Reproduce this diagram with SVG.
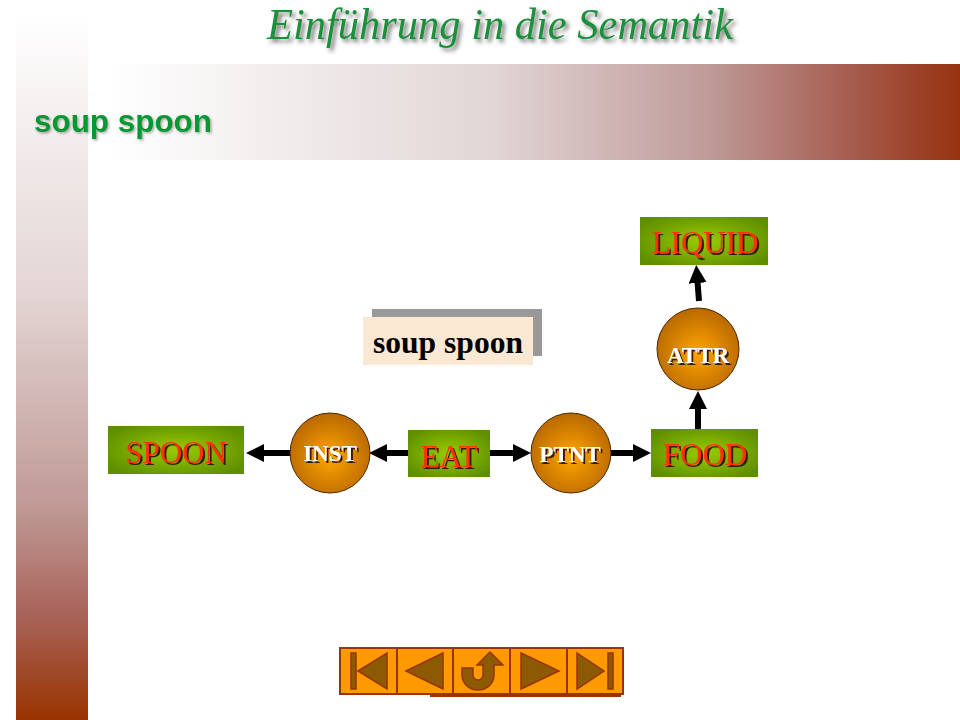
<svg xmlns="http://www.w3.org/2000/svg" width="960" height="720" viewBox="0 0 960 720">
<defs>
<linearGradient id="side" x1="0" y1="0" x2="0" y2="1">
<stop offset="0" stop-color="#ffffff"/>
<stop offset="0.4" stop-color="#e3d5d4"/>
<stop offset="0.7" stop-color="#bf9995"/>
<stop offset="0.85" stop-color="#a8645a"/>
<stop offset="1" stop-color="#993300"/>
</linearGradient>
<linearGradient id="band" x1="0" y1="0" x2="1" y2="0">
<stop offset="0" stop-color="#ffffff"/>
<stop offset="0.45" stop-color="#e2d6d6"/>
<stop offset="0.7" stop-color="#bf9c9a"/>
<stop offset="0.87" stop-color="#a65d50"/>
<stop offset="1" stop-color="#963210"/>
</linearGradient>
<radialGradient id="green" cx="0.5" cy="0.5" r="0.6">
<stop offset="0" stop-color="#99cc00"/>
<stop offset="1" stop-color="#5f8f00"/>
</radialGradient>
<radialGradient id="orange" cx="0.5" cy="0.55" r="0.55">
<stop offset="0" stop-color="#ffa600"/>
<stop offset="1" stop-color="#b86800"/>
</radialGradient>
<filter id="sh" x="-10%" y="-20%" width="130%" height="150%">
<feDropShadow dx="2" dy="2" stdDeviation="0.6" flood-color="#2a1000" flood-opacity="0.9"/>
</filter>
<filter id="tsh" x="-5%" y="-30%" width="115%" height="170%">
<feDropShadow dx="3" dy="3" stdDeviation="2" flood-color="#333" flood-opacity="0.7"/>
</filter>
<filter id="hsh" x="-5%" y="-30%" width="115%" height="170%">
<feDropShadow dx="1.5" dy="1.5" stdDeviation="1" flood-color="#555" flood-opacity="0.5"/>
</filter>
<marker id="ah" markerUnits="userSpaceOnUse" markerWidth="20" markerHeight="20" refX="5" refY="9" orient="auto">
<path d="M0,0 L18,9 L0,18 Z" fill="#000"/>
</marker>
</defs>
<style>
.box{fill:url(#green);}
.circ{fill:url(#orange);stroke:#4a2800;stroke-width:1;}
.bl{font-family:"Liberation Serif",serif;font-size:31px;fill:#ff3300;text-anchor:middle;filter:url(#sh);}
.cl{font-family:"Liberation Serif",serif;font-weight:bold;font-size:23px;fill:#ffffff;text-anchor:middle;filter:url(#sh);}
.conn line{stroke:#000;stroke-width:6;marker-end:url(#ah);}
.btn{fill:#ff9900;stroke:#993300;stroke-width:2;}
.ico{fill:#8c5a00;stroke:#993300;stroke-width:1.5;}
</style>
<rect width="960" height="720" fill="#ffffff"/>
<rect x="16" y="13" width="72" height="707" fill="url(#side)"/>
<rect x="108" y="64" width="852" height="96" fill="url(#band)"/>
<text x="500" y="39" font-family="Liberation Serif,serif" font-style="italic" font-size="44" fill="#1a8f3a" text-anchor="middle" textLength="466" lengthAdjust="spacingAndGlyphs" filter="url(#tsh)">Einführung in die Semantik</text>
<text x="34" y="132" font-family="Liberation Sans,Arial,sans-serif" font-weight="bold" font-size="31" fill="#009933" textLength="178" lengthAdjust="spacingAndGlyphs" filter="url(#hsh)">soup spoon</text>
<g id="caption">
<rect x="372" y="309" width="170" height="47" fill="#999999"/>
<rect x="363" y="317" width="170" height="48" fill="#fbe8d2"/>
<text x="448" y="353" font-family="Liberation Serif,serif" font-weight="bold" font-size="31" fill="#000" text-anchor="middle" textLength="150" lengthAdjust="spacingAndGlyphs">soup spoon</text>
</g>
<g class="conn" id="connectors">
<line x1="291" y1="453" x2="259" y2="453"/>
<line x1="408" y1="453" x2="382" y2="453"/>
<line x1="490" y1="453" x2="518" y2="453"/>
<line x1="610" y1="453" x2="638" y2="453"/>
<line x1="698" y1="431" x2="698" y2="404"/>
<line x1="699" y1="301" x2="697.2" y2="278"/>
</g>
<g id="spoon"><rect class="box" x="108" y="426" width="136" height="48"/><text class="bl" x="176" y="463">SPOON</text></g>
<g id="inst"><circle class="circ" cx="330" cy="453" r="40"/><text class="cl" x="330" y="461">INST</text></g>
<g id="eat"><rect class="box" x="408" y="430" width="82" height="47"/><text class="bl" x="449" y="467">EAT</text></g>
<g id="ptnt"><circle class="circ" cx="571" cy="453" r="40"/><text class="cl" x="570" y="462">PTNT</text></g>
<g id="food"><rect class="box" x="651" y="429" width="107" height="48"/><text class="bl" x="705" y="465">FOOD</text></g>
<g id="attr"><circle class="circ" cx="698" cy="349" r="41"/><text class="cl" x="698" y="363">ATTR</text></g>
<g id="liquid"><rect class="box" x="640" y="217" width="128" height="48"/><text class="bl" x="705" y="253">LIQUID</text></g>
<g id="nav">
<line x1="430" y1="696" x2="621" y2="696" stroke="#993300" stroke-width="2"/>
<rect class="btn" x="340" y="648" width="57" height="46"/>
<rect class="btn" x="397" y="648" width="56" height="46"/>
<rect class="btn" x="453" y="648" width="57" height="46"/>
<rect class="btn" x="510" y="648" width="57" height="46"/>
<rect class="btn" x="567" y="648" width="56" height="46"/>
<rect class="ico" x="351" y="653" width="5" height="36"/>
<path class="ico" d="M358,671 L387,653 L387,689 Z"/>
<path class="ico" d="M406,671 L443,653 L443,689 Z"/>
<path class="ico" d="M462,668 L473,668 L473,675 A5,5 0 0 0 483,675 L483,665 L477,665 L490,652 L503,665 L494,665 L494,675 A16,15 0 0 1 462,675 Z"/>
<path class="ico" d="M521,653 L559,671 L521,689 Z"/>
<path class="ico" d="M577,653 L604,671 L577,689 Z"/>
<rect class="ico" x="608" y="653" width="5" height="36"/>
</g>
</svg>
